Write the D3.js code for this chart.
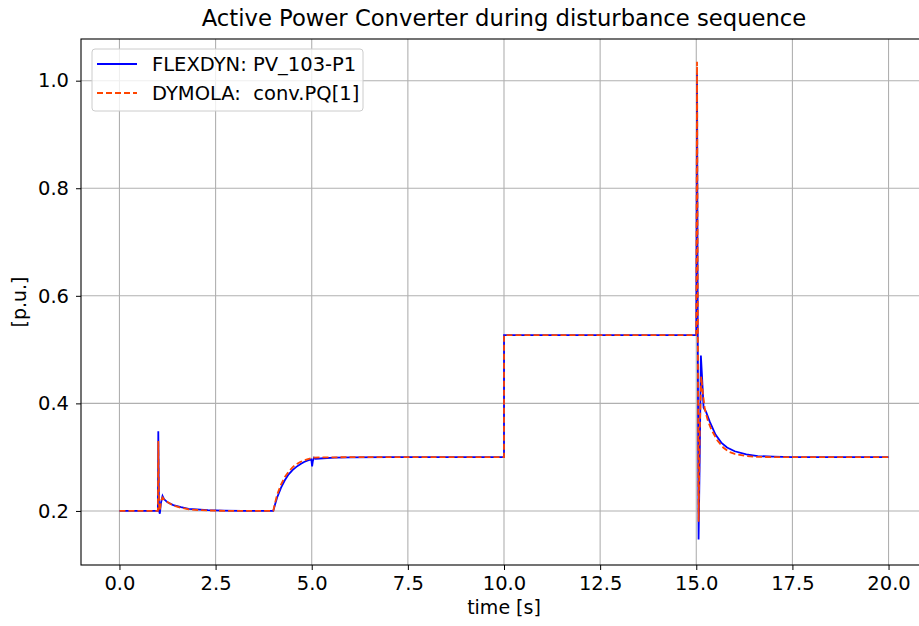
<!DOCTYPE html>
<head>
  <meta charset="utf-8">
  <script src="https://d3js.org/d3.v7.min.js"></script>
  <style>
    body { margin: 0; background: #fff; }
    svg text { font-family: "DejaVu Sans", sans-serif; fill: #000; }
  </style>
</head>
<body>
<div id="chart"></div>
<script>
// FLEXDYN: PV_103-P1
var flexTime = [0, 1.0, 1.01, 1.03, 1.05, 1.08, 1.12, 1.16, 1.25, 1.4, 1.6, 1.8, 2.0, 2.3, 2.7, 3.2, 4.0,
  4.05, 4.1, 4.2, 4.3, 4.4, 4.5, 4.6, 4.7, 4.8, 4.9, 4.99, 5.01, 5.03, 5.06, 5.1, 5.3, 5.6, 6.0, 7.0, 10.0,
  10.001, 15.0, 15.02, 15.04, 15.06, 15.09, 15.12, 15.15, 15.19, 15.25, 15.35, 15.5, 15.65, 15.8, 16.0,
  16.3, 16.6, 17.0, 17.5, 20.0];
var flexValue = [0.2, 0.2, 0.348, 0.2, 0.195, 0.215, 0.228, 0.222, 0.216, 0.211, 0.207, 0.204, 0.203, 0.2015, 0.2005, 0.2, 0.2,
  0.213, 0.225, 0.243, 0.257, 0.268, 0.276, 0.282, 0.287, 0.291, 0.294, 0.296, 0.283, 0.293, 0.299, 0.297, 0.298, 0.299, 0.2995, 0.3, 0.3,
  0.527, 0.527, 1.014, 0.5, 0.147, 0.3, 0.489, 0.45, 0.392, 0.385, 0.366, 0.342, 0.327, 0.318, 0.311,
  0.305, 0.302, 0.301, 0.3, 0.3];

// DYMOLA: conv.PQ[1]
var dymTime = [0, 1.0, 1.01, 1.03, 1.05, 1.08, 1.12, 1.2, 1.4, 1.6, 1.8, 2.1, 2.5, 3.0, 4.0,
  4.05, 4.1, 4.2, 4.3, 4.4, 4.5, 4.6, 4.7, 4.8, 4.9, 5.0, 5.05, 5.2, 6.0, 10.0,
  10.001, 15.0, 15.02, 15.04, 15.06, 15.09, 15.13, 15.17, 15.22, 15.3, 15.4, 15.55, 15.7, 15.85, 16.0,
  16.3, 16.6, 17.0, 20.0];
var dymValue = [0.2, 0.2, 0.33, 0.21, 0.2, 0.218, 0.225, 0.219, 0.21, 0.206, 0.203, 0.2015, 0.2005, 0.2, 0.2,
  0.216, 0.23, 0.249, 0.263, 0.273, 0.281, 0.287, 0.291, 0.294, 0.2965, 0.298, 0.299, 0.2995, 0.3, 0.3,
  0.527, 0.527, 1.035, 0.55, 0.18, 0.35, 0.45, 0.42, 0.39, 0.368, 0.35, 0.331, 0.318, 0.31, 0.306,
  0.302, 0.3005, 0.3, 0.3];

var xTicks = [0, 2.5, 5, 7.5, 10, 12.5, 15, 17.5, 20];
var yTicks = [0.2, 0.4, 0.6, 0.8, 1.0];

var width = 919, height = 626;
var margin = {top: 39, right: -8, bottom: 61, left: 81};

var svg = d3.select("#chart").append("svg")
    .attr("width", width)
    .attr("height", height);

var x = d3.scaleLinear().domain([-1, 21]).range([margin.left, width - margin.right]);
var y = d3.scaleLinear().domain([0.0995, 1.0775]).range([height - margin.bottom, margin.top]);

// grid
svg.append("g").selectAll("line").data(xTicks).enter().append("line")
    .attr("x1", d => x(d)).attr("x2", d => x(d))
    .attr("y1", margin.top).attr("y2", height - margin.bottom)
    .attr("stroke", "#b0b0b0").attr("stroke-width", 1.1);
svg.append("g").selectAll("line").data(yTicks).enter().append("line")
    .attr("x1", margin.left).attr("x2", width - margin.right)
    .attr("y1", d => y(d)).attr("y2", d => y(d))
    .attr("stroke", "#b0b0b0").attr("stroke-width", 1.1);

// lines
var line = d3.line().x(d => x(d[0])).y(d => y(d[1]));
var flexData = flexTime.map((t, i) => [t, flexValue[i]]);
var dymData = dymTime.map((t, i) => [t, dymValue[i]]);

svg.append("path").datum(flexData)
    .attr("d", line).attr("fill", "none")
    .attr("stroke", "#0000ff").attr("stroke-width", 1.8);
svg.append("path").datum(dymData)
    .attr("d", line).attr("fill", "none")
    .attr("stroke", "#ff4500").attr("stroke-width", 1.8)
    .attr("stroke-dasharray", "6,3");

// axes
var xAxis = d3.axisBottom(x).tickValues(xTicks).tickFormat(d3.format(".1f")).tickSize(5).tickPadding(6);
var yAxis = d3.axisLeft(y).tickValues(yTicks).tickFormat(d3.format(".1f")).tickSize(5).tickPadding(7);

var gx = svg.append("g").attr("transform", "translate(0," + (height - margin.bottom) + ")").call(xAxis);
var gy = svg.append("g").attr("transform", "translate(" + margin.left + ",0)").call(yAxis);
[gx, gy].forEach(function(g) {
    g.select(".domain").remove();
    g.selectAll("line").attr("stroke", "#000").attr("stroke-width", 1);
    g.selectAll("text").attr("font-size", 19.5).attr("font-family", "DejaVu Sans");
});

// frame
svg.append("rect")
    .attr("x", margin.left).attr("y", margin.top)
    .attr("width", width - margin.right - margin.left)
    .attr("height", height - margin.bottom - margin.top)
    .attr("fill", "none").attr("stroke", "#000").attr("stroke-width", 1.1);

// title and labels
svg.append("text").attr("x", 504).attr("y", 26).attr("text-anchor", "middle")
    .attr("font-size", 22.7).text("Active Power Converter during disturbance sequence");
svg.append("text").attr("x", 504).attr("y", 614).attr("text-anchor", "middle")
    .attr("font-size", 19).text("time [s]");
svg.append("text").attr("transform", "translate(26,302) rotate(-90)").attr("text-anchor", "middle")
    .attr("font-size", 19).text("[p.u.]");

// legend
var legendData = [
    {label: "FLEXDYN: PV_103-P1", color: "#0000ff", dash: null},
    {label: "DYMOLA:  conv.PQ[1]", color: "#ff4500", dash: "6,3"}
];
var lg = svg.append("g").attr("transform", "translate(92,49)");
lg.append("rect").attr("width", 271).attr("height", 62).attr("rx", 3)
    .attr("fill", "#fff").attr("fill-opacity", 0.8)
    .attr("stroke", "#cccccc").attr("stroke-width", 1);
var item = lg.selectAll(".legend").data(legendData).enter().append("g")
    .attr("class", "legend")
    .attr("transform", (d, i) => "translate(0," + (15 + i * 29) + ")");
item.append("line").attr("x1", 5).attr("x2", 45).attr("y1", 0).attr("y2", 0)
    .attr("stroke", d => d.color).attr("stroke-width", 1.8)
    .attr("stroke-dasharray", d => d.dash);
item.append("text").attr("x", 60).attr("y", 7).attr("font-size", 19.5)
    .style("white-space", "pre").attr("xml:space", "preserve")
    .text(d => d.label);
</script>
</body>
</html>
